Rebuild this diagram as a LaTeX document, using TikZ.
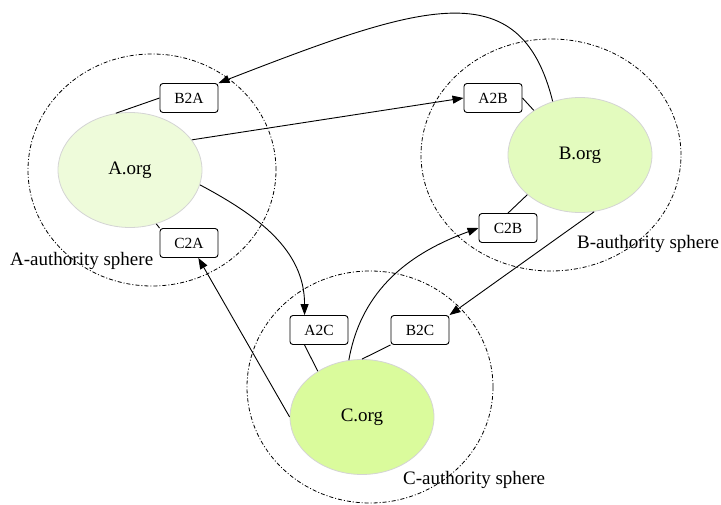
\documentclass[tikz,border=0pt]{standalone}
\usepackage{fontspec}
\setmainfont{Liberation Serif}
\usetikzlibrary{arrows.meta,shapes.geometric}
\definecolor{afill}{HTML}{EEFBDA}
\definecolor{bfill}{HTML}{E3FBBE}
\definecolor{cfill}{HTML}{DAFB9C}
\definecolor{orgline}{HTML}{D4D4D4}
\tikzset{
  sphere/.style={draw, ellipse, line width=0.8pt, dash pattern=on 4pt off 2pt on 1pt off 2pt, inner sep=0pt},
  org/.style={ellipse, draw=orgline, line width=0.8pt, minimum width=144pt, minimum height=115pt, inner sep=0pt, font=\fontsize{19}{22}\selectfont},
  gw/.style={draw, rounded corners=3pt, line width=0.9pt, minimum width=58pt, minimum height=29pt, inner sep=0pt, font=\fontsize{15.5}{18}\selectfont, fill=white},
  lbl/.style={anchor=base west, inner sep=0pt, font=\fontsize{19}{22}\selectfont},
  link/.style={line width=0.9pt},
  flow/.style={line width=0.9pt, -{Triangle[length=11pt,width=8pt]}}
}
\begin{document}
\begin{tikzpicture}[x=1pt,y=-1pt]
\useasboundingbox (0,0) rectangle (721,505);
% spheres
\node[sphere, minimum width=248pt, minimum height=232pt] (sA) at (152,170) {};
\node[sphere, minimum width=260pt, minimum height=232pt] (sB) at (551,155) {};
\node[sphere, minimum width=246pt, minimum height=232pt] (sC) at (370,387) {};
\node[lbl] (lA) at (10,266) {A-authority sphere};
\node[lbl] (lB) at (577,249) {B-authority sphere};
\node[lbl] (lC) at (403,484) {C-authority sphere};
% orgs
\node[org, fill=afill] (A) at (130,170) {A.org};
\node[org, fill=bfill] (B) at (580,155) {B.org};
\node[org, fill=cfill] (C) at (362,417) {C.org};
% gateways
\node[gw] (B2A) at (189,98) {B2A};
\node[gw] (C2A) at (189,243) {C2A};
\node[gw] (A2B) at (493,98) {A2B};
\node[gw] (C2B) at (508,228) {C2B};
\node[gw] (A2C) at (319,330) {A2C};
\node[gw] (B2C) at (420,330) {B2C};
% undirected links
\draw[link] (B2A.west) -- (A.104);
\draw[link] (A.-64) -- (C2A.north west);
\draw[link] (A2B.east) -- (B.136);
\draw[link] (C2B.north) -- (B.217);
\draw[link] (A2C.226) -- (C.134);
\draw[link] (B2C.south west) -- (C.90);
% directed flows
\draw[flow] (A.26) -- (A2B.west);
\draw[flow] (B.117) .. controls (520,-30) and (420,5) .. (B2A.north east);
\draw[flow] (A.-12) to[out=-28, in=90] (A2C.134);
\draw[flow] (B.-76) -- (B2C.north east);
\draw[flow] (C.103) to[out=80, in=200] (C2B.west);
\draw[flow] (C.west) -- (C2A.-58);
\end{tikzpicture}
\end{document}
